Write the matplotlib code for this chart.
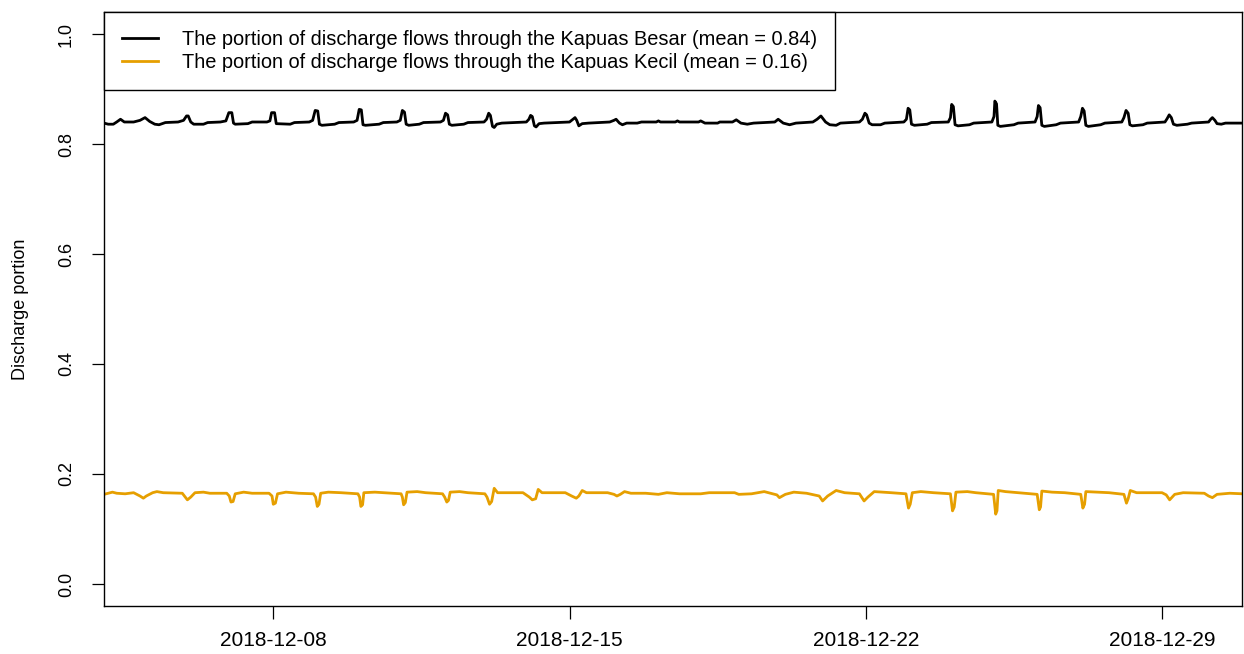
import numpy as np
import pandas as pd
import matplotlib
matplotlib.use("Agg")
import matplotlib.pyplot as plt
import matplotlib.dates as mdates

plt.rcParams['font.family'] = ['Liberation Sans', 'DejaVu Sans']

start_date = "2018-12-04 00:00"

# Kapuas Besar portion: (days since start, value)
besar_days = [
    0.0, 0.1, 0.22, 0.3, 0.39, 0.48, 0.7,
    0.85, 0.97, 1.08, 1.2, 1.3, 1.45, 1.75,
    1.88, 1.95, 1.99, 2.05, 2.12, 2.35, 2.45, 2.75, 2.88,
    2.95, 3.02, 3.06, 3.1, 3.4, 3.5, 3.85, 3.92,
    3.96, 4.03, 4.07, 4.4, 4.5, 4.85, 4.93,
    4.99, 5.05, 5.09, 5.15, 5.45, 5.55, 5.9, 5.98,
    6.03, 6.08, 6.12, 6.18, 6.5, 6.6, 6.92, 7.0,
    7.05, 7.1, 7.14, 7.2, 7.45, 7.55, 7.95, 8.02,
    8.07, 8.12, 8.16, 8.22, 8.5, 8.6, 8.98, 9.04,
    9.09, 9.13, 9.18, 9.22, 9.28, 9.4, 9.98, 10.04,
    10.08, 10.12, 10.17, 10.21, 10.28, 10.4, 11.0, 11.08,
    11.13, 11.17, 11.22, 11.3, 11.45, 11.95, 12.05,
    12.1, 12.18, 12.25, 12.35, 12.6, 12.7, 13.05,
    13.1, 13.15, 13.5, 13.55, 13.6, 14.05,
    14.1, 14.2, 14.5, 14.55, 14.85,
    14.94, 15.05, 15.2, 15.35, 15.85,
    15.93, 16.05, 16.2, 16.35, 16.75, 16.85,
    16.94, 17.05, 17.15, 17.3, 17.4, 17.85, 17.92,
    17.98, 18.02, 18.08, 18.15, 18.35, 18.45, 18.9, 18.96,
    19.0, 19.04, 19.08, 19.15, 19.45, 19.55, 19.95, 20.0,
    20.03, 20.07, 20.11, 20.18, 20.45, 20.55, 20.98, 21.03,
    21.05, 21.09, 21.12, 21.18, 21.5, 21.6, 22.0, 22.05,
    22.08, 22.12, 22.16, 22.22, 22.5, 22.6, 23.03, 23.08,
    23.12, 23.16, 23.2, 23.26, 23.55, 23.65, 24.05, 24.1,
    24.15, 24.2, 24.24, 24.3, 24.55, 24.65, 25.07, 25.12,
    25.17, 25.22, 25.27, 25.35, 25.6, 25.7, 26.1, 26.15,
    26.19, 26.25, 26.3, 26.4, 26.5, 26.9,
]
besar_vals = [
    0.838, 0.836, 0.836, 0.840, 0.845, 0.840, 0.840,
    0.843, 0.848, 0.841, 0.836, 0.835, 0.839, 0.840,
    0.843, 0.851, 0.851, 0.840, 0.836, 0.836, 0.839, 0.840, 0.842,
    0.857, 0.857, 0.838, 0.836, 0.837, 0.840, 0.840, 0.842,
    0.857, 0.857, 0.837, 0.836, 0.839, 0.840, 0.843,
    0.861, 0.860, 0.836, 0.834, 0.836, 0.839, 0.840, 0.843,
    0.863, 0.862, 0.835, 0.834, 0.836, 0.839, 0.840, 0.843,
    0.861, 0.858, 0.836, 0.834, 0.836, 0.839, 0.840, 0.843,
    0.856, 0.853, 0.836, 0.834, 0.836, 0.839, 0.840, 0.845,
    0.856, 0.852, 0.832, 0.830, 0.836, 0.838, 0.840, 0.845,
    0.852, 0.850, 0.833, 0.831, 0.837, 0.838, 0.840, 0.845,
    0.848, 0.843, 0.833, 0.837, 0.838, 0.840, 0.843,
    0.845, 0.838, 0.835, 0.838, 0.838, 0.840, 0.840,
    0.842, 0.840, 0.840, 0.842, 0.840, 0.840,
    0.842, 0.838, 0.838, 0.840, 0.840,
    0.844, 0.838, 0.836, 0.838, 0.840,
    0.845, 0.838, 0.835, 0.838, 0.840, 0.845,
    0.851, 0.840, 0.835, 0.834, 0.838, 0.840, 0.845,
    0.856, 0.853, 0.838, 0.835, 0.835, 0.838, 0.840, 0.845,
    0.865, 0.862, 0.836, 0.834, 0.836, 0.839, 0.840, 0.848,
    0.872, 0.868, 0.835, 0.833, 0.835, 0.838, 0.840, 0.850,
    0.878, 0.873, 0.834, 0.832, 0.835, 0.838, 0.840, 0.850,
    0.870, 0.866, 0.834, 0.832, 0.835, 0.838, 0.840, 0.850,
    0.865, 0.860, 0.834, 0.832, 0.835, 0.838, 0.840, 0.848,
    0.861, 0.856, 0.835, 0.833, 0.835, 0.838, 0.840, 0.846,
    0.853, 0.848, 0.836, 0.834, 0.836, 0.838, 0.840, 0.845,
    0.848, 0.843, 0.837, 0.836, 0.838, 0.838,
]

# Kapuas Kecil portion: (days since start, value)
kecil_days = [
    0.0, 0.1, 0.2, 0.3, 0.5, 0.7, 0.85, 0.93, 1.0, 1.15, 1.25, 1.4,
    1.85, 1.97, 2.05, 2.15, 2.35, 2.5,
    2.9, 2.96, 3.0, 3.05, 3.1, 3.3, 3.5,
    3.9, 3.97, 4.0, 4.05, 4.1, 4.3, 4.6,
    4.95, 5.0, 5.04, 5.08, 5.12, 5.3, 5.6,
    6.0, 6.04, 6.07, 6.11, 6.14, 6.4, 6.6,
    7.02, 7.05, 7.08, 7.12, 7.16, 7.4, 7.6,
    8.0, 8.05, 8.1, 8.14, 8.18, 8.4, 8.6,
    9.0, 9.05, 9.11, 9.16, 9.22, 9.3, 9.9,
    10.05, 10.12, 10.2, 10.26, 10.35, 10.9,
    11.05, 11.16, 11.22, 11.3, 11.4, 11.9,
    12.05, 12.12, 12.2, 12.3, 12.45, 12.8,
    13.1, 13.3, 13.6, 14.1, 14.3, 14.9,
    15.0, 15.3, 15.6, 15.9, 15.96, 16.1, 16.3, 16.6,
    16.9, 16.98, 17.1, 17.3, 17.5,
    17.85, 17.96, 18.05, 18.2, 18.4, 18.6,
    18.95, 19.01, 19.05, 19.1, 19.3, 19.6,
    20.0, 20.05, 20.09, 20.13, 20.4, 20.6,
    21.02, 21.07, 21.1, 21.13, 21.3, 21.6,
    22.05, 22.1, 22.13, 22.16, 22.4, 22.7,
    23.08, 23.13, 23.17, 23.2, 23.5, 23.75,
    24.1, 24.16, 24.2, 24.25, 24.4, 25.0,
    25.1, 25.18, 25.3, 25.5, 26.0,
    26.1, 26.19, 26.3, 26.6, 26.9,
]
kecil_vals = [
    0.163, 0.165, 0.167, 0.165, 0.164, 0.166, 0.160, 0.156, 0.160, 0.166, 0.168, 0.166,
    0.165, 0.153, 0.158, 0.166, 0.167, 0.165,
    0.165, 0.160, 0.149, 0.150, 0.164, 0.167, 0.165,
    0.165, 0.160, 0.145, 0.147, 0.164, 0.167, 0.165,
    0.164, 0.158, 0.141, 0.145, 0.165, 0.167, 0.166,
    0.164, 0.158, 0.141, 0.144, 0.166, 0.167, 0.166,
    0.164, 0.158, 0.144, 0.148, 0.167, 0.168, 0.166,
    0.164, 0.158, 0.149, 0.152, 0.167, 0.168, 0.166,
    0.164, 0.158, 0.145, 0.150, 0.174, 0.166, 0.166,
    0.158, 0.153, 0.155, 0.172, 0.166, 0.166,
    0.160, 0.156, 0.160, 0.170, 0.166, 0.166,
    0.163, 0.160, 0.163, 0.168, 0.165, 0.165,
    0.163, 0.166, 0.164, 0.164, 0.166, 0.166,
    0.163, 0.164, 0.168, 0.162, 0.157, 0.163, 0.167, 0.165,
    0.160, 0.151, 0.160, 0.170, 0.166,
    0.164, 0.151, 0.158, 0.168, 0.167, 0.166,
    0.164, 0.138, 0.145, 0.166, 0.168, 0.166,
    0.164, 0.133, 0.140, 0.167, 0.168, 0.166,
    0.163, 0.127, 0.133, 0.170, 0.168, 0.166,
    0.163, 0.135, 0.140, 0.169, 0.167, 0.166,
    0.163, 0.138, 0.145, 0.168, 0.167, 0.166,
    0.163, 0.147, 0.155, 0.170, 0.166, 0.166,
    0.162, 0.153, 0.163, 0.166, 0.165,
    0.160, 0.157, 0.163, 0.165, 0.164,
]

tick_dates = ["2018-12-08", "2018-12-15", "2018-12-22", "2018-12-29"]
y_ticks = [0.0, 0.2, 0.4, 0.6, 0.8, 1.0]
labels = [
    "The portion of discharge flows through the Kapuas Besar (mean = 0.84)",
    "The portion of discharge flows through the Kapuas Kecil (mean = 0.16)",
]
colors = ["black", "#E69F00"]

t0 = pd.Timestamp(start_date)
besar_t = t0 + pd.to_timedelta(besar_days, unit="D")
kecil_t = t0 + pd.to_timedelta(kecil_days, unit="D")

fig = plt.figure(figsize=(12.44, 6.54), dpi=100)
ax = fig.add_axes([104 / 1244, 48 / 654, 1138 / 1244, 594 / 654])

ax.plot(besar_t, besar_vals, color=colors[0], lw=2.0, label=labels[0])
ax.plot(kecil_t, kecil_vals, color=colors[1], lw=2.0, label=labels[1])

ax.set_xlim(t0, t0 + pd.Timedelta(days=26.89))
ax.set_ylim(-0.04, 1.04)

ax.set_xticks(pd.to_datetime(tick_dates))
ax.xaxis.set_major_formatter(mdates.DateFormatter("%Y-%m-%d"))
ax.set_yticks(y_ticks)
ax.set_yticklabels([f"{v:.1f}" for v in y_ticks], rotation=90, va="center")

ax.tick_params(axis="both", direction="out", length=9, width=0.9, colors="black")
ax.tick_params(axis="x", pad=9, labelsize=15)
ax.tick_params(axis="y", pad=12, labelsize=13)
for s in ax.spines.values():
    s.set_linewidth(1.0)
    s.set_color("black")

ax.set_ylabel("Discharge portion", fontsize=13, labelpad=21)

leg = ax.legend(loc="upper left", bbox_to_anchor=(0, 1), borderaxespad=0,
                fancybox=False, edgecolor="black", framealpha=1, fontsize=14.4,
                handlelength=1.8, handletextpad=1.2, borderpad=0.9,
                labelspacing=0.22)
leg.get_frame().set_linewidth(1.0)

fig.savefig("out.png", dpi=100)
